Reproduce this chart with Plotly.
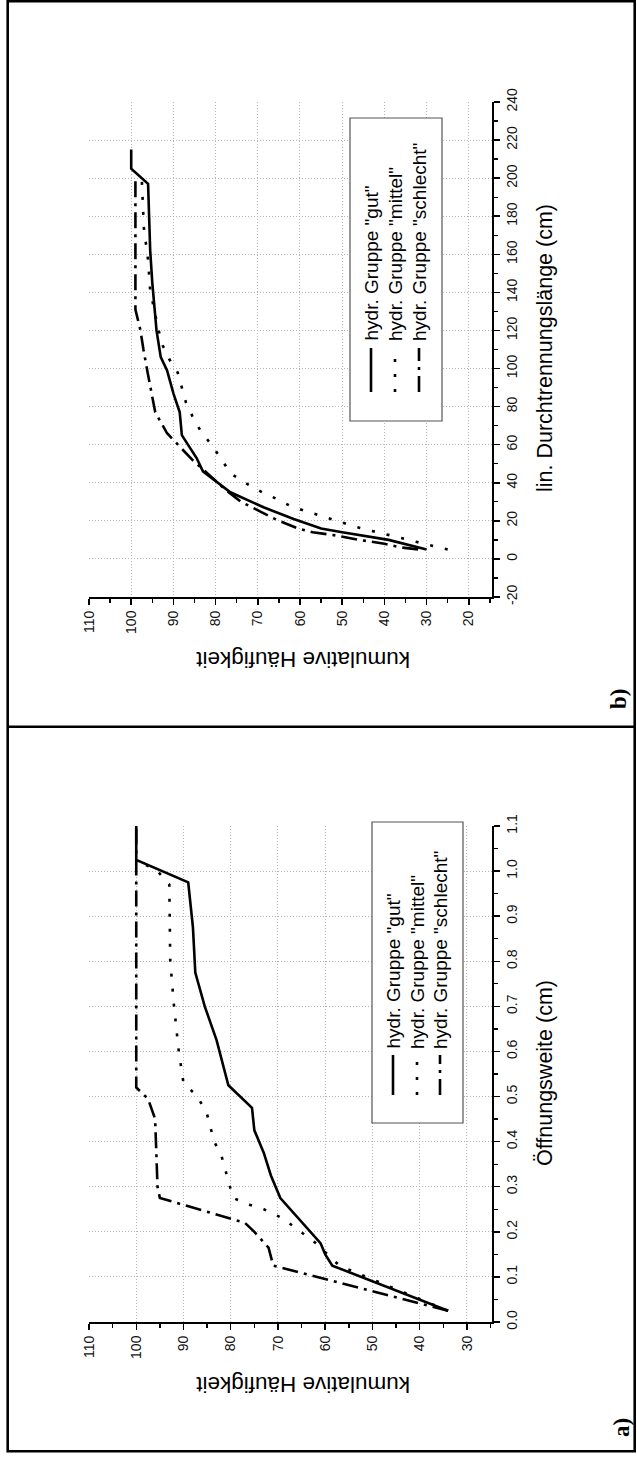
import plotly.graph_objects as go

W, H = 637, 1461

# ---------------- data ----------------
# Panel a: Öffnungsweite (cm) vs kumulative Häufigkeit
a_gut_x = [0.025, 0.125, 0.15, 0.175, 0.275, 0.325, 0.375, 0.425, 0.475, 0.525, 0.625, 0.7, 0.775, 0.875, 0.975, 1.025, 1.1]
a_gut_y = [34, 58.5, 60, 61, 69.5, 71.5, 73, 75, 75.5, 80.5, 83, 85.5, 87.5, 88, 89, 100, 100]
a_mittel_x = [0.025, 0.125, 0.175, 0.23, 0.25, 0.26, 0.275, 0.335, 0.37, 0.4, 0.46, 0.5, 0.53, 0.6, 0.7, 0.8, 0.97, 1.0, 1.025]
a_mittel_y = [34, 57, 62, 69, 73, 76, 79.5, 81, 82, 83.5, 85, 87, 90, 91, 92, 92.8, 93, 95.5, 100]
a_schlecht_x = [0.025, 0.125, 0.165, 0.2, 0.22, 0.275, 0.3, 0.45, 0.495, 0.52, 1.1]
a_schlecht_y = [34, 71, 72, 75, 77, 95, 95.5, 96, 97.5, 100, 100]

# Panel b: lin. Durchtrennungslänge (cm) vs kumulative Häufigkeit
b_gut_x = [5, 10, 14, 16, 21, 27, 35, 42, 46, 53, 65, 77, 87, 99, 106, 120, 145, 162, 197, 205, 215]
b_gut_y = [30, 39, 50, 55, 61.5, 68.5, 76.5, 80.5, 83, 84.5, 88, 88.5, 90, 91.5, 93, 94, 95, 95.5, 96, 100, 100]
b_mittel_x = [5, 7, 9, 11, 13, 15, 17, 19.5, 22, 24.5, 27.5, 31.5, 35, 40, 45, 52, 60, 67, 75, 82, 90, 98, 105, 112, 120, 141, 157, 174, 200]
b_mittel_y = [25, 29, 32.5, 36, 40, 43.5, 47, 50.5, 54.5, 58, 62, 65.5, 69, 73, 76.5, 78.5, 81, 83.5, 85.5, 87, 88, 89, 91, 92.5, 93.5, 95.5, 96, 97, 97.5]
b_schlecht_x = [5, 6, 8, 10, 12.5, 14, 16, 20.5, 25, 30, 37, 45, 52, 59, 66, 77, 90, 99, 110, 120, 131, 200]
b_schlecht_y = [32, 36, 40, 46, 52, 57, 60.5, 65.5, 69.5, 74, 78, 82, 85.5, 88.5, 91.5, 94.3, 95.5, 96.2, 97.1, 97.8, 99, 99]

series_names = ['hydr. Gruppe "gut"', 'hydr. Gruppe "mittel"', 'hydr. Gruppe "schlecht"']

a_freq_ticks = [110, 100, 90, 80, 70, 60, 50, 40, 30]
a_width_ticks = [0.0, 0.1, 0.2, 0.3, 0.4, 0.5, 0.6, 0.7, 0.8, 0.9, 1.0, 1.1]
b_freq_ticks = [110, 100, 90, 80, 70, 60, 50, 40, 30, 20]
b_len_ticks = [-20, 0, 20, 40, 60, 80, 100, 120, 140, 160, 180, 200, 220, 240]

# ---------------- helpers ----------------
def fx(p):
    return p / W

def fy(p):
    return 1 - p / H

FONT = "Arial, 'Liberation Sans', sans-serif"
DASHES = ["solid", "3px,12px", "16px,6px,3px,6px"]
LW = 2.6

fig = go.Figure()

panel_b = [(b_gut_x, b_gut_y), (b_mittel_x, b_mittel_y), (b_schlecht_x, b_schlecht_y)]
panel_a = [(a_gut_x, a_gut_y), (a_mittel_x, a_mittel_y), (a_schlecht_x, a_schlecht_y)]

for (xs, ys), dash, nm in zip(panel_b, DASHES, series_names):
    fig.add_trace(go.Scatter(x=ys, y=xs, mode="lines", name=nm, showlegend=False,
                             line=dict(color="black", width=LW, dash=dash),
                             xaxis="x", yaxis="y"))
for (xs, ys), dash, nm in zip(panel_a, DASHES, series_names):
    fig.add_trace(go.Scatter(x=ys, y=xs, mode="lines", name=nm, showlegend=False,
                             line=dict(color="black", width=LW, dash=dash),
                             xaxis="x2", yaxis="y2"))

xdom = [fx(89), fx(492)]
grid = dict(showgrid=True, gridcolor="#b5b5b5", gridwidth=1, griddash="1px,2px")
common = dict(showline=True, linecolor="black", linewidth=2, ticks="outside",
              ticklen=6, tickwidth=1.5, tickcolor="black", tickangle=-90,
              tickfont=dict(family=FONT, size=14, color="#111111"), zeroline=False,
              **grid)
minor_common = dict(ticks="outside", ticklen=4, tickwidth=1.3, tickcolor="black", showgrid=False)

fig.update_layout(
    width=W, height=H,
    margin=dict(l=0, r=0, t=0, b=0, autoexpand=False),
    paper_bgcolor="white", plot_bgcolor="white",
    showlegend=False,
    xaxis=dict(domain=xdom, range=[110, 14.5], anchor="y", side="bottom",
               tickvals=b_freq_ticks, ticktext=[str(v) for v in b_freq_ticks],
               minor=dict(dtick=5, tick0=0, **minor_common),
               **common),
    yaxis=dict(domain=[fy(597), fy(102)], range=[-20, 240], anchor="x", side="right",
               tickvals=b_len_ticks, ticktext=[str(v) for v in b_len_ticks],
               minor=dict(dtick=10, tick0=0, **minor_common),
               **common),
    xaxis2=dict(domain=xdom, range=[110, 24.7], anchor="y2", side="bottom",
                tickvals=a_freq_ticks, ticktext=[str(v) for v in a_freq_ticks],
                minor=dict(dtick=5, tick0=0, **minor_common),
                **common),
    yaxis2=dict(domain=[fy(1322), fy(826)], range=[0, 1.1], anchor="x2", side="right",
                tickvals=a_width_ticks, ticktext=["%.1f" % v for v in a_width_ticks],
                minor=dict(dtick=0.05, tick0=0, **minor_common),
                **common),
)

shapes = []
annotations = []

# outer frame and divider
shapes.append(dict(type="rect", xref="paper", yref="paper", x0=fx(7.7), x1=fx(634.7), y0=fy(1451.3), y1=fy(1.2),
                   line=dict(color="black", width=2.6)))
shapes.append(dict(type="line", xref="paper", yref="paper", x0=fx(7.7), x1=fx(634.7), y0=fy(726.7), y1=fy(726.7),
                   line=dict(color="black", width=2.6)))

# legends (rotated)
def add_legend(box, entry_x, samp_y0, samp_y1, text_y):
    x0, x1, y0, y1 = box
    shapes.append(dict(type="rect", xref="paper", yref="paper", x0=fx(x0), x1=fx(x1), y0=fy(y1), y1=fy(y0),
                       line=dict(color="#555555", width=1.2), fillcolor="white", layer="above"))
    for ex, dash, nm in zip(entry_x, DASHES, series_names):
        shapes.append(dict(type="line", xref="paper", yref="paper", x0=fx(ex), x1=fx(ex),
                           y0=fy(samp_y0), y1=fy(samp_y1), line=dict(color="black", width=LW, dash=dash),
                           layer="above"))
        annotations.append(dict(xref="paper", yref="paper", x=fx(ex), y=fy(text_y), text=nm,
                                textangle=-90, showarrow=False, xanchor="center", yanchor="bottom",
                                font=dict(family=FONT, size=19, color="black")))

add_legend((350, 442, 118, 421), [371, 395, 419], 392, 348, 343)
add_legend((372, 463, 822, 1123), [393, 417, 440], 1095, 1055, 1051)

# axis titles
def rot_text(txt, x, y, angle, size, family=FONT, bold=False):
    if bold:
        txt = "<b>" + txt + "</b>"
    annotations.append(dict(xref="paper", yref="paper", x=fx(x), y=fy(y), text=txt, textangle=angle,
                            showarrow=False, xanchor="center", yanchor="middle",
                            font=dict(family=family, size=size, color="black")))

rot_text("lin. Durchtrennungslänge (cm)", 545, 348, -90, 21.5)
rot_text("Öffnungsweite (cm)", 545, 1073, -90, 21.5)
rot_text("kumulative Häufigkeit", 303, 660, 180, 22.5)
rot_text("kumulative Häufigkeit", 303, 1385, 180, 22.5)
rot_text("b)", 619, 699, -90, 23, family="'Times New Roman', 'Liberation Serif', serif", bold=True)
rot_text("a)", 621, 1428, -90, 23, family="'Times New Roman', 'Liberation Serif', serif", bold=True)

fig.update_layout(shapes=shapes, annotations=annotations)

fig.write_html("out.html", config={"displayModeBar": False, "staticPlot": True},
               post_script="document.body.style.margin='0';document.body.style.overflow='hidden';")
